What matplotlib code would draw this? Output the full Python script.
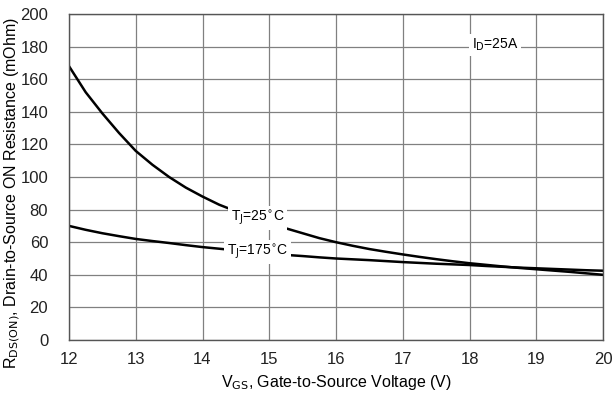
import matplotlib
matplotlib.use("Agg")
from matplotlib import pyplot as plt

plt.rcParams['font.family'] = ['Liberation Sans', 'DejaVu Sans']

vgs = [12, 12.25, 12.5, 12.75, 13, 13.25, 13.5, 13.75, 14, 14.25, 14.5, 14.75,
       15, 15.25, 15.5, 15.75, 16, 16.25, 16.5, 16.75, 17, 17.25, 17.5, 17.75,
       18, 18.25, 18.5, 18.75, 19, 19.25, 19.5, 19.75, 20]
r_25 = [168, 152, 139, 127, 116, 107.5, 100, 93.5, 88, 83, 79, 75,
        71.5, 68.5, 65.5, 62.5, 60, 57.8, 55.8, 54.1, 52.5, 51, 49.6, 48.3,
        47.1, 46.1, 45.1, 44.2, 43.4, 42.6, 41.8, 40.9, 40]
r_175 = [70, 67.6, 65.5, 63.7, 62, 60.7, 59.5, 58.2, 57, 56, 55, 54,
         53, 52.2, 51.5, 50.7, 50, 49.5, 49, 48.4, 47.8, 47.3, 46.8, 46.4,
         46, 45.4, 44.9, 44.4, 44, 43.6, 43.2, 42.8, 42.5]
xticks = [12, 13, 14, 15, 16, 17, 18, 19, 20]
yticks = [0, 20, 40, 60, 80, 100, 120, 140, 160, 180, 200]

fig = plt.figure(figsize=(6.13, 3.94), dpi=100)
ax = fig.add_axes([69/613, 1-340/394, (603-69)/613, (340-14)/394])

ax.plot(vgs, r_25, color='black', lw=1.8)
ax.plot(vgs, r_175, color='black', lw=1.8)

ax.set_xlim(12, 20)
ax.set_ylim(0, 200)
ax.set_xticks(xticks)
ax.set_yticks(yticks)
ax.grid(True, color='#808080', lw=0.9)
ax.tick_params(length=0, labelsize=12, colors='#222222')
ax.tick_params(axis='y', pad=15)
ax.tick_params(axis='x', pad=9)
for s in ax.spines.values():
    s.set_color('#555555')
    s.set_linewidth(1.0)

box = dict(facecolor='white', edgecolor='none', pad=2)
ax.text(14.83, 75, r'T$_\mathrm{J}$=25$^{\circ}$C', ha='center', va='center', fontsize=10, bbox=box)
ax.text(14.83, 54, r'T$_\mathrm{J}$=175$^{\circ}$C', ha='center', va='center', fontsize=10, bbox=box)
ax.text(18.38, 181, r'I$_\mathrm{D}$=25A', ha='center', va='center', fontsize=10, bbox=box)

ax.set_xlabel(r'V$_\mathrm{GS}$, Gate-to-Source Voltage (V)', fontsize=11.5, labelpad=4)
ax.set_ylabel(r'R$_\mathrm{DS(ON)}$, Drain-to-Source ON Resistance (mOhm)', fontsize=11.5)
ax.yaxis.set_label_coords(-47/534, 0.45)

fig.savefig("out.png", dpi=100)
